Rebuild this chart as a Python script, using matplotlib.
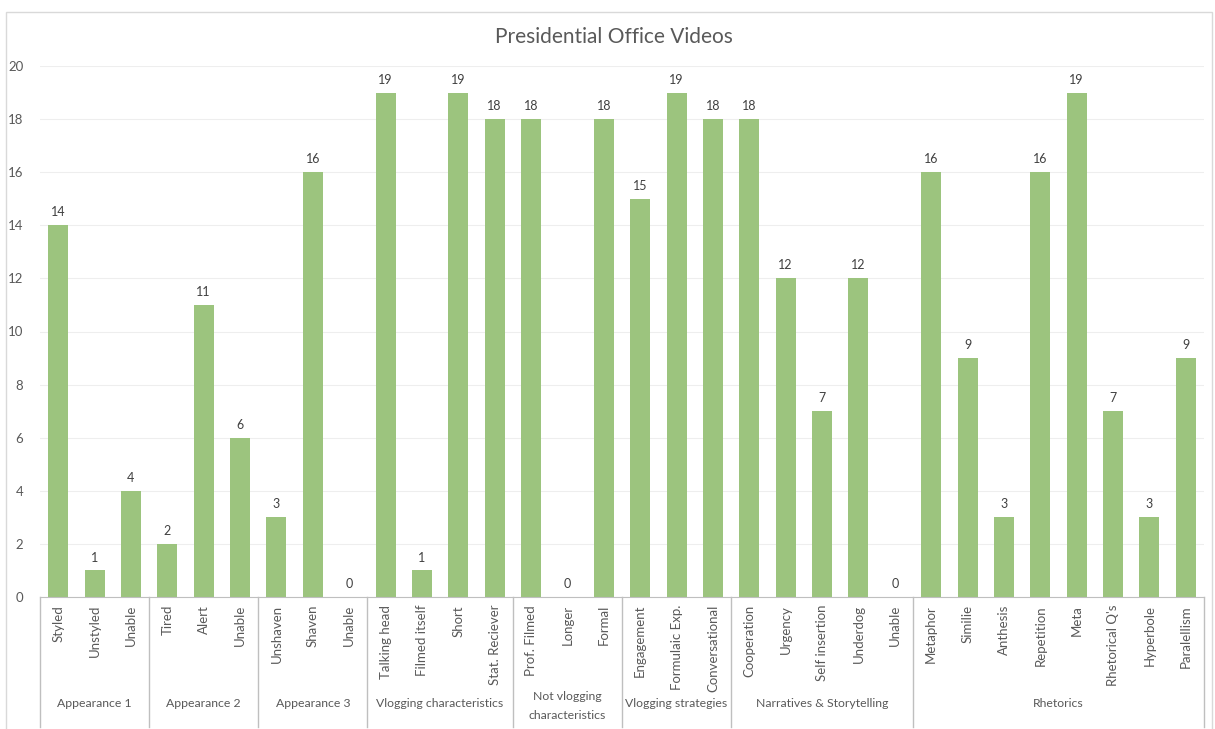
import numpy as np
import matplotlib.pyplot as plt
from matplotlib.patches import Rectangle
from matplotlib.transforms import blended_transform_factory

plt.rcParams['font.family'] = ['Lato', 'DejaVu Sans']

# groups and their sub-categories, in drawing order
groups = ["Appearance 1", "Appearance 2", "Appearance 3", "Vlogging characteristics",
          "Not vlogging\ncharacteristics", "Vlogging strategies",
          "Narratives & Storytelling", "Rhetorics"]
group_sizes = [3, 3, 3, 4, 3, 3, 5, 8]

labels = ["Styled", "Unstyled", "Unable",
          "Tired", "Alert", "Unable",
          "Unshaven", "Shaven", "Unable",
          "Talking head", "Filmed itself", "Short", "Stat. Reciever",
          "Prof. Filmed", "Longer", "Formal",
          "Engagement", "Formulaic Exp.", "Conversational",
          "Cooperation", "Urgency", "Self insertion", "Underdog", "Unable",
          "Metaphor", "Similie", "Anthesis", "Repetition", "Meta",
          "Rhetorical Q's", "Hyperbole", "Paralellism"]

counts = [14, 1, 4,
          2, 11, 6,
          3, 16, 0,
          19, 1, 19, 18,
          18, 0, 18,
          15, 19, 18,
          18, 12, 7, 12, 0,
          16, 9, 3, 16, 19, 7, 3, 9]

txt = "#595959"
fig = plt.figure(figsize=(12.15, 7.29), dpi=100)
# chart frame
fig.patches.append(Rectangle((6 / 1215, -0.01), 1206 / 1215, 1 - 12 / 729 + 0.01,
                             transform=fig.transFigure, fill=False,
                             edgecolor="#d9d9d9", linewidth=1))

ax = fig.add_axes([40 / 1215, 1 - 597 / 729, 1164 / 1215, 531 / 729])
x = np.arange(len(counts))
bars = ax.bar(x, counts, width=0.55, color="#9cc47e", zorder=2)

ax.set_xlim(-0.5, len(counts) - 0.5)
ax.set_ylim(0, 20)
ax.set_yticks(range(0, 21, 2))
ax.tick_params(axis="y", length=0, pad=12, labelsize=9.5, labelcolor=txt)
ax.set_xticks([])
ax.grid(axis="y", color="#eeeeee", linewidth=0.8, zorder=0)
for s in ["left", "right", "top"]:
    ax.spines[s].set_visible(False)
ax.spines["bottom"].set_color("#bfbfbf")

fig.text(0.505, 1 - 37 / 729, "Presidential Office Videos", ha="center", va="center",
         fontsize=15, color=txt)

# value labels on top of the bars
for xi, v in zip(x, counts):
    ax.annotate(str(v), (xi, v), xytext=(0, 5), textcoords="offset points",
                ha="center", va="bottom", fontsize=9, color="#404040")

trans = blended_transform_factory(ax.transData, ax.transAxes)
for xi, lab in zip(x, labels):
    ax.text(xi, -0.015, lab, transform=trans, rotation=90, ha="center", va="top",
            fontsize=9.5, color=txt)

# group separators and group names
start = 0
bounds = [-0.5]
for g, n in zip(groups, group_sizes):
    mid = start + (n - 1) / 2
    y = -0.2 if "\n" not in g else -0.206
    ax.text(mid, y, g, transform=trans, ha="center", va="center",
            fontsize=8.8, color=txt, linespacing=1.9)
    start += n
    bounds.append(start - 0.5)
for b in bounds:
    ax.plot([b, b], [0, -0.245], transform=trans, color="#bfbfbf",
            linewidth=1, clip_on=False)

fig.savefig("out.png", dpi=100)
